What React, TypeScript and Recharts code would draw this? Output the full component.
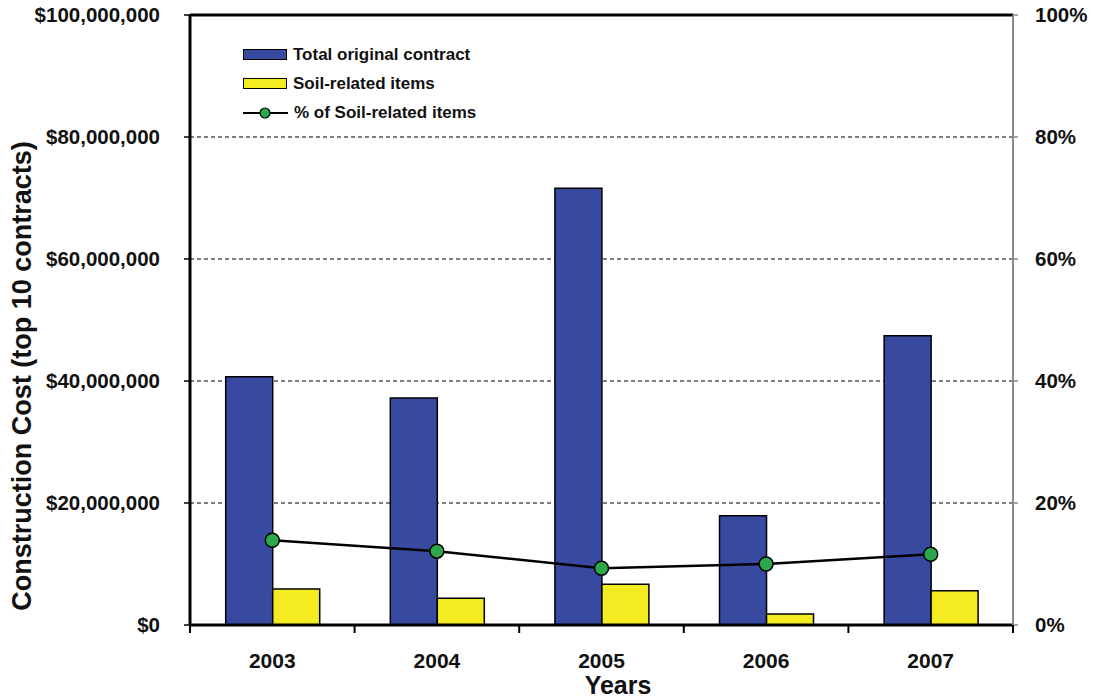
import { ComposedChart, Bar, Line, XAxis, YAxis, CartesianGrid, Legend, ReferenceLine, Label } from "recharts";

const years = ["2003", "2004", "2005", "2006", "2007"];
const totalContract = [40700000, 37200000, 71600000, 17900000, 47400000];
const soilItems = [5900000, 4400000, 6700000, 1800000, 5600000];
const soilPercent = [13.9, 12.1, 9.3, 10.0, 11.6];

const costTicks = [0, 20000000, 40000000, 60000000, 80000000, 100000000];
const percentTicks = [0, 20, 40, 60, 80, 100];

const FONT = "Arial, 'Liberation Sans', Helvetica, sans-serif";
const BLUE = "#374a9f";
const YELLOW = "#f4ec21";
const GREEN = "#2aa84a";
const X_TICK_SIZE = 6;
const X_TICK_MARGIN = 22;

const data = years.map((year, i) => ({
  year,
  total: totalContract[i],
  soil: soilItems[i],
  pct: soilPercent[i],
}));

// year label, plus the small marks at the category edges (offset = half band)
function YearTick(props: any) {
  const { x, y, payload } = props;
  const axisY = y - X_TICK_SIZE - X_TICK_MARGIN;
  const half = payload.offset || 0;
  const isLast = payload.index === years.length - 1;
  return (
    <g>
      <line x1={x - half} y1={axisY} x2={x - half} y2={axisY + 8} stroke="#000" strokeWidth={2} />
      {isLast && <line x1={x + half} y1={axisY} x2={x + half} y2={axisY + 8} stroke="#000" strokeWidth={2} />}
      <text x={x} y={y} dy="0.71em" textAnchor="middle" fontFamily={FONT} fontWeight={700} fontSize={21} fill="#111">
        {payload.value}
      </text>
    </g>
  );
}

function ChartLegend() {
  const row = { display: "flex", alignItems: "center", height: 29 };
  const text = { fontFamily: FONT, fontWeight: 700, fontSize: 17, color: "#111", marginLeft: 6 };
  return (
    <div>
      <div style={row}>
        <div style={{ width: 42, height: 9, background: BLUE, border: "1.5px solid #000" }} />
        <span style={text}>Total original contract</span>
      </div>
      <div style={row}>
        <div style={{ width: 42, height: 9, background: YELLOW, border: "1.5px solid #000" }} />
        <span style={text}>Soil-related items</span>
      </div>
      <div style={row}>
        <svg width={45} height={16}>
          <line x1={0} y1={8} x2={45} y2={8} stroke="#000" strokeWidth={2} />
          <circle cx={22} cy={8} r={5} fill={GREEN} stroke="#000" strokeWidth={1.2} />
        </svg>
        <span style={text}>% of Soil-related items</span>
      </div>
    </div>
  );
}

export default function App() {
  return (
    <div style={{ position: "absolute", left: 0, top: 0, background: "#fff" }}>
      <ComposedChart
        width={1096}
        height={698}
        data={data}
        margin={{ top: 15, right: 0, bottom: 0, left: 0 }}
        barCategoryGap="21.7%"
        barGap={0}
      >
        <CartesianGrid
          yAxisId="left"
          vertical={false}
          stroke="#000"
          strokeWidth={1.2}
          strokeDasharray="4 3"
          horizontalValues={costTicks}
        />
        <XAxis
          dataKey="year"
          height={73}
          axisLine={{ stroke: "#000", strokeWidth: 3 }}
          tickLine={false}
          tickSize={X_TICK_SIZE}
          tickMargin={X_TICK_MARGIN}
          tick={<YearTick />}
          interval={0}
        >
          <Label
            content={() => (
              <text x={618} y={694} textAnchor="middle" fontFamily={FONT} fontWeight={700} fontSize={25} fill="#111">
                Years
              </text>
            )}
          />
        </XAxis>
        <YAxis
          yAxisId="left"
          width={190}
          domain={[0, 100000000]}
          ticks={costTicks}
          axisLine={{ stroke: "#000", strokeWidth: 3 }}
          tickLine={{ stroke: "#000", strokeWidth: 1.5 }}
          tickSize={6}
          tickMargin={24}
          tickFormatter={(v: number) => "$" + v.toLocaleString("en-US")}
          tick={{ fill: "#111", fontFamily: FONT, fontWeight: 700, fontSize: 20.5 }}
        >
          <Label
            content={() => (
              <text
                x={22}
                y={376}
                transform="rotate(-90 22 376)"
                textAnchor="middle"
                dominantBaseline="central"
                fontFamily={FONT}
                fontWeight={700}
                fontSize={27}
                fill="#111"
              >
                Construction Cost (top 10 contracts)
              </text>
            )}
          />
        </YAxis>
        <YAxis
          yAxisId="right"
          orientation="right"
          width={83}
          domain={[0, 100]}
          ticks={percentTicks}
          axisLine={{ stroke: "#888", strokeWidth: 2 }}
          tickLine={{ stroke: "#888", strokeWidth: 1.5 }}
          tickSize={5}
          tickMargin={17}
          tickFormatter={(v: number) => `${v}%`}
          tick={{ fill: "#111", fontFamily: FONT, fontWeight: 700, fontSize: 20.5 }}
        />
        <ReferenceLine yAxisId="left" y={100000000} stroke="#000" strokeWidth={3} />
        <Legend
          layout="vertical"
          align="center"
          verticalAlign="middle"
          wrapperStyle={{ position: "absolute", left: 243, top: 40, width: 280 }}
          content={() => <ChartLegend />}
        />
        <Bar
          yAxisId="left"
          dataKey="total"
          name="Total original contract"
          fill={BLUE}
          stroke="#000"
          strokeWidth={1.5}
          isAnimationActive={false}
        />
        <Bar
          yAxisId="left"
          dataKey="soil"
          name="Soil-related items"
          fill={YELLOW}
          stroke="#000"
          strokeWidth={1.5}
          isAnimationActive={false}
        />
        <Line
          yAxisId="right"
          dataKey="pct"
          name="% of Soil-related items"
          stroke="#000"
          strokeWidth={2.5}
          dot={{ r: 7, fill: GREEN, stroke: "#000", strokeWidth: 1.5 }}
          isAnimationActive={false}
        />
      </ComposedChart>
    </div>
  );
}
